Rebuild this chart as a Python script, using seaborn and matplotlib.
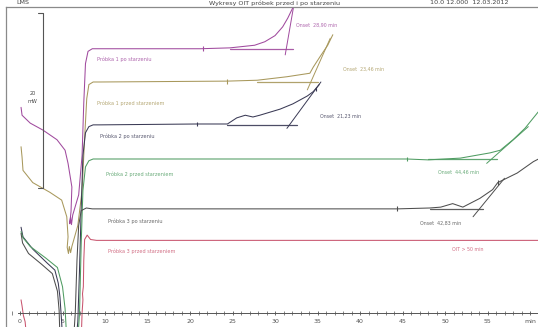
import numpy as np
import pandas as pd
import matplotlib
matplotlib.use("Agg")
import matplotlib.pyplot as plt
import seaborn as sns
from matplotlib.ticker import FixedLocator, MultipleLocator

# OIT curves: time [min] vs heat flow [mW, offset]
names = ["Próbka 1 po starzeniu", "Próbka 1 przed starzeniem", "Próbka 2 po starzeniu",
         "Próbka 2 przed starzeniem", "Próbka 3 po starzeniu", "Próbka 3 przed starzeniem"]

p1_po_t = [0.12, 0.24, 1.2, 2.7, 4.35, 5.3, 5.65, 6.1, 6.0, 5.85, 5.95, 6.05, 6.2, 6.9, 7.3, 7.5,
           7.7, 8.0, 8.5, 9.4, 21.2, 24.7, 27.6, 28.8, 30.0, 30.9, 31.5, 32.1, 32.6]
p1_po_y = [23.5, 22.6, 21.7, 20.9, 19.8, 18.6, 17.1, 14.4, 11.6, 10.2, 11.0, 10.1, 11.2, 13.5, 18.0, 24.0,
           28.5, 29.9, 30.2, 30.2, 30.2, 30.3, 30.6, 31.0, 31.7, 32.7, 33.7, 34.9, 36.0]

p1_przed_t = [0.12, 0.24, 0.35, 1.5, 3.5, 4.9, 5.5, 5.65, 5.55, 5.7, 5.8, 5.95, 6.1, 6.8, 7.3, 7.6,
              7.85, 8.1, 8.6, 9.4, 24.4, 27.9, 31.4, 34.1, 34.5, 35.3, 36.2, 36.8]
p1_przed_y = [19.0, 17.8, 16.3, 14.9, 13.8, 12.9, 11.0, 8.7, 7.5, 6.8, 7.6, 6.9, 7.6, 10.0, 14.0, 20.0,
              24.5, 26.1, 26.4, 26.4, 26.5, 26.6, 27.0, 27.4, 28.1, 29.3, 30.6, 31.8]

p2_po_t = [0.12, 0.35, 1.5, 3.2, 4.1, 4.5, 4.7, 4.9, 5.0, 6.6, 6.8, 7.0, 7.2, 7.4, 7.7, 8.1, 8.6, 9.4,
           20.8, 24.4, 25.5, 26.5, 27.4, 28.2, 30.6, 32.1, 33.8, 34.5, 35.2]
p2_po_y = [9.8, 8.7, 7.3, 5.7, 4.9, 3.4, 1.8, -1.1, -3.0, -3.0, -1.0, 5.0, 12.0, 18.0, 20.6, 21.3, 21.5, 21.5,
           21.6, 21.6, 22.3, 22.6, 22.4, 22.6, 23.3, 23.9, 24.8, 25.3, 26.1]

p2_przed_t = [0.12, 0.35, 1.2, 3.0, 4.4, 5.0, 5.3, 5.5, 6.8, 7.0, 7.2, 7.4, 7.7, 8.1, 8.6, 9.4,
              45.5, 48.0, 51.8, 55.3, 56.5, 58.0, 59.4, 60.9, 61.5]
p2_przed_y = [9.3, 8.6, 7.6, 6.3, 5.2, 3.0, 0.5, -3.0, -3.0, 0.0, 8.0, 14.0, 16.7, 17.4, 17.6, 17.6,
              17.6, 17.5, 17.7, 18.3, 18.6, 19.8, 21.1, 22.9, 23.6]

p3_po_t = [0.12, 0.3, 1.0, 2.5, 3.8, 4.4, 4.6, 4.7, 6.3, 6.5, 6.7, 6.9, 7.2, 7.8, 8.5, 44.4, 48.2,
           49.5, 50.9, 51.5, 52.1, 54.1, 55.6, 56.2, 58.5, 60.4, 61.2]
p3_po_y = [9.1, 8.0, 6.8, 5.6, 4.5, 2.5, 0.3, -3.0, -3.0, 0.0, 6.0, 10.0, 11.7, 12.0, 11.9, 11.9, 12.0,
           12.1, 12.5, 12.3, 12.1, 13.1, 14.1, 14.9, 16.0, 17.3, 17.7]

p3_przed_t = [0.12, 0.24, 0.4, 0.6, 0.8, 7.2, 7.3, 7.4, 7.35, 7.45, 7.5, 7.6, 7.9, 8.3, 9.0, 61.5]
p3_przed_y = [1.5, 0.8, -0.3, -1.0, -3.0, -3.0, 0.0, 1.5, 2.2, 3.0, 6.0, 8.4, 8.9, 8.4, 8.3, 8.3]

# onset evaluation: fitted baseline, tangent, limit markers, result text
onset_texts = ["Onset  28,90 min", "Onset  23,46 min", "Onset  21,23 min",
               "Onset  44,46 min", "Onset  42,83 min", "OIT > 50 min"]
base_t = [(24.7, 32.1), (27.9, 35.1), (24.4, 32.6), (48.0, 56.1), (48.2, 54.5)]
base_y = [30.2, 26.4, 21.5, 17.6, 11.9]
tang_t = [(31.2, 32.2), (33.8, 36.5), (31.4, 35.4), (54.9, 59.8), (53.3, 57.0)]
tang_y = [(29.5, 35.1), (25.5, 31.4), (21.1, 26.4), (17.1, 21.3), (11.0, 15.4)]
mark_t = [21.5, 24.4, 20.8, 45.5, 44.4, 34.8, 56.2]
mark_y = [30.2, 26.5, 21.6, 17.6, 11.9, 25.6, 14.9]

xticks = [0, 5, 10, 15, 20, 25, 30, 35, 40, 45, 50, 55, 60]
xticklabels = ["0", "5", "10", "15", "20", "25", "30", "35", "40", "45", "50", "55", "min"]

curves = [(p1_po_t, p1_po_y), (p1_przed_t, p1_przed_y), (p2_po_t, p2_po_y),
          (p2_przed_t, p2_przed_y), (p3_po_t, p3_po_y), (p3_przed_t, p3_przed_y)]
colors = ["#a04a9e", "#a8985c", "#3a3a55", "#4f9c62", "#4e4e4e", "#c9556f"]
label_pos = [(9.1, 29.0), (9.1, 24.0), (9.4, 20.2), (10.1, 15.9), (10.4, 10.5), (10.4, 7.1)]
onset_pos = [(32.5, 32.9), (38.0, 27.9), (35.3, 22.5), (49.2, 16.1), (47.1, 10.3), (50.8, 7.3)]

sns.set_theme(style="white")
plt.rcParams["font.family"] = ["DejaVu Sans"]

fig = plt.figure(figsize=(5.38, 3.27), dpi=100)
ax = fig.add_axes([6 / 538, 0, 1 - 6 / 538, 1 - 7 / 327])

for (t, y), c in zip(curves, colors):
    df = pd.DataFrame({"t": t, "y": y})
    sns.lineplot(data=df, x="t", y="y", sort=False, estimator=None, color=c, lw=0.75, ax=ax)

for i in range(5):
    c = colors[i]
    ax.plot(base_t[i], [base_y[i], base_y[i]], color=c, lw=0.9, alpha=0.9)
    ax.plot(tang_t[i], tang_y[i], color=c, lw=0.7)
ax.scatter(mark_t, mark_y, marker="|", s=12, c=[colors[0], colors[1], colors[2], colors[3],
                                                colors[4], colors[2], colors[4]], linewidths=0.8)

for name, (lx, ly), c in zip(names, label_pos, colors):
    ax.text(lx, ly, name, fontsize=3.6, color=c, va="center", ha="left", alpha=0.85)
for txt, (ox, oy), c in zip(onset_texts, onset_pos, colors):
    ax.text(ox, oy, txt, fontsize=3.4, color=c, va="center", ha="left", alpha=0.85)

# 20 mW scale bar
ax.plot([2.1, 2.7, 2.7, 2.1], [34.3, 34.3, 14.3, 14.3], color="#555555", lw=0.8)
ax.text(1.5, 25.1, "20", fontsize=3.6, color="#444444", ha="center", va="center")
ax.text(1.5, 24.2, "mW", fontsize=3.6, color="#444444", ha="center", va="center")

ax.set_xlim(-1.65, 60.94)
ax.set_ylim(-1.6, 34.97)
ax.set_xlabel("")
ax.set_ylabel("")
ax.set_yticks([])

ax.spines["right"].set_visible(False)
ax.spines["left"].set_color("#8a8a8a")
ax.spines["top"].set_color("#8a8a8a")
ax.spines["left"].set_linewidth(0.9)
ax.spines["top"].set_linewidth(0.9)
ax.spines["bottom"].set_position(("data", 0))
ax.spines["bottom"].set_bounds(-0.2, 61)
ax.spines["bottom"].set_color("#555555")
ax.spines["bottom"].set_linewidth(0.7)

ax.xaxis.set_major_locator(FixedLocator(xticks))
ax.set_xticklabels(xticklabels)
ax.xaxis.set_minor_locator(MultipleLocator(1))
ax.tick_params(axis="x", which="major", bottom=True, direction="inout", length=3.5, width=0.6,
               color="#555555", labelsize=4.5, labelcolor="#555555", pad=2.5)
ax.tick_params(axis="x", which="minor", bottom=True, direction="inout", length=2.2, width=0.5,
               color="#555555")

# header strip of the print-out
fig.text(0.51, 0.999, "Wykresy OIT próbek przed i po starzeniu", fontsize=4.6, color="#444444",
         ha="center", va="top")
fig.text(0.03, 0.999, "LMS", fontsize=4.6, color="#444444", ha="left", va="top")
fig.text(0.80, 0.999, "10.0 12.000  12.03.2012", fontsize=4.6, color="#444444",
         ha="left", va="top")

fig.savefig("out.png", dpi=100)
